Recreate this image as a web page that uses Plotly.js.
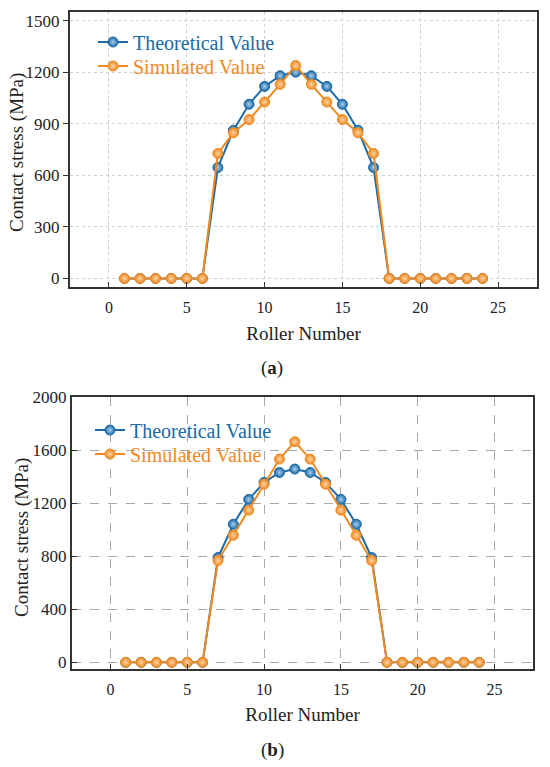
<!DOCTYPE html>
<html>
<head>
<meta charset="utf-8">
<script src="https://cdn.plot.ly/plotly-3.0.1.min.js"></script>
<style>html,body{margin:0;padding:0;background:#fff;}#chart{width:550px;height:767px;}</style>
</head>
<body>
<div id="chart"></div>
<script>
const rollers = [1,2,3,4,5,6,7,8,9,10,11,12,13,14,15,16,17,18,19,20,21,22,23,24];
const theoreticalA = [0,0,0,0,0,0,645,862,1013,1117,1179,1200,1179,1117,1013,862,645,0,0,0,0,0,0,0];
const simulatedA   = [0,0,0,0,0,0,727,847,924,1026,1129,1239,1129,1026,924,847,727,0,0,0,0,0,0,0];
const theoreticalB = [0,0,0,0,0,0,790,1041,1228,1356,1431,1457,1431,1356,1228,1041,790,0,0,0,0,0,0,0];
const simulatedB   = [0,0,0,0,0,0,767,958,1147,1343,1532,1663,1532,1343,1147,958,767,0,0,0,0,0,0,0];
const yTicksA = [0,300,600,900,1200,1500];
const yTicksB = [0,400,800,1200,1600,2000];
const xTicks = [0,5,10,15,20,25];
const seriesNames = ['Theoretical Value','Simulated Value'];
const xTitle = 'Roller Number';
const yTitle = 'Contact stress (MPa)';
const captions = ['a','b'];

const BLUE = '#1b69a5', ORANGE = '#f0891f';
const FONT = 'Liberation Serif';

function trace(y, color, hi, name, xa, ya, leg) {
  return {
    x: rollers, y: y, type: 'scatter', mode: 'lines+markers',
    name: '<span style="color:' + color + '">' + name + '</span>',
    xaxis: xa, yaxis: ya, legend: leg,
    line: {color: color, width: 2},
    marker: {color: color, size: 10, symbol: 'circle',
             gradient: {type: 'radial', color: hi},
             line: {color: color, width: 1}}
  };
}

const data = [
  trace(theoreticalA, BLUE, '#a9d0ee', seriesNames[0], 'x', 'y', 'legend'),
  trace(simulatedA, ORANGE, '#fbd3a6', seriesNames[1], 'x', 'y', 'legend2'),
  trace(theoreticalB, BLUE, '#a9d0ee', seriesNames[0], 'x2', 'y2', 'legend3'),
  trace(simulatedB, ORANGE, '#fbd3a6', seriesNames[1], 'x2', 'y2', 'legend4')
];

function xAxis(domain, anchor, griddash, gridcolor) {
  return {
    domain: domain, anchor: anchor, range: [-2.5, 27.5],
    tickvals: xTicks, ticks: 'inside', ticklen: 5, tickcolor: '#333', tickwidth: 1,
    ticklabelstandoff: 5,
    showline: true, mirror: true, linecolor: '#333', linewidth: 2,
    showgrid: true, gridcolor: gridcolor, griddash: griddash, gridwidth: 1,
    zeroline: false,
    tickfont: {family: FONT, size: 16, color: '#222'},
    title: {text: xTitle, font: {family: FONT, size: 19, color: '#222'}, standoff: 11}
  };
}
function yAxis(domain, anchor, range, vals, ticks, griddash, gridcolor) {
  return {
    domain: domain, anchor: anchor, range: range,
    tickvals: vals, ticks: ticks, ticklen: 5, tickcolor: '#333', tickwidth: 1,
    showline: true, mirror: true, linecolor: '#333', linewidth: 2,
    showgrid: true, gridcolor: gridcolor, griddash: griddash, gridwidth: 1,
    zeroline: false,
    tickfont: {family: FONT, size: 17, color: '#222'}
  };
}
function leg(xpx, ypx) {
  return {x: xpx / 550, y: 1 - ypx / 767, xanchor: 'left', yanchor: 'middle',
          bgcolor: 'rgba(0,0,0,0)', font: {family: FONT, size: 20}};
}
function note(text, xpx, ypx, angle) {
  return {text: text, xref: 'paper', yref: 'paper', x: xpx / 550, y: 1 - ypx / 767,
          xanchor: 'center', yanchor: 'middle', textangle: angle || 0, showarrow: false,
          font: {family: FONT, size: 19, color: '#222'}};
}

const layout = {
  width: 550, height: 767,
  margin: {l: 0, r: 0, t: 0, b: 0},
  paper_bgcolor: '#fff', plot_bgcolor: '#fff',
  font: {family: FONT},
  xaxis: xAxis([0.1273, 0.9764], 'y', 'dot', '#cfcfcf'),
  yaxis: yAxis([0.6258, 0.9844], 'x', [-50, 1550], yTicksA, 'outside', 'dot', '#cfcfcf'),
  xaxis2: xAxis([0.1309, 0.9691], 'y2', 'dash', '#a8a8a8'),
  yaxis2: yAxis([0.1278, 0.4824], 'x2', [-50, 2000], yTicksB, 'inside', 'dash', '#a8a8a8'),
  legend: leg(93, 42),
  legend2: leg(93, 66),
  legend3: leg(90, 430),
  legend4: leg(90, 454),
  showlegend: true,
  annotations: [
    note(yTitle, 17, 153, -90),
    note(yTitle, 22, 538, -90),
    note('(<b>' + captions[0] + '</b>)', 272, 368),
    note('(<b>' + captions[1] + '</b>)', 272, 750)
  ]
};

Plotly.newPlot('chart', data, layout, {displayModeBar: false, staticPlot: true});
</script>
</body>
</html>
